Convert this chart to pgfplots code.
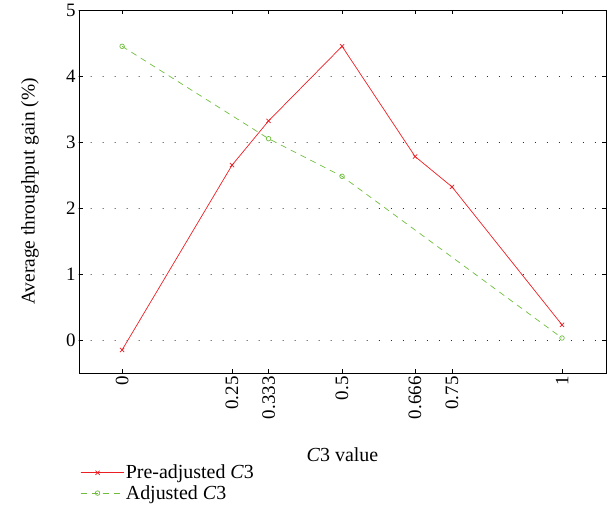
\documentclass[border=0pt]{standalone}
\usepackage{fontspec}
\setmainfont{Liberation Serif}
\usepackage{pgfplots}
\pgfplotsset{compat=1.18}
\definecolor{cred}{RGB}{235,30,35}
\definecolor{cgreen}{RGB}{110,190,60}
\begin{document}
\begin{tikzpicture}[x=1bp,y=1bp, font=\fontsize{19}{22}\selectfont]
\begin{axis}[
  at={(0,0)}, anchor=south west,
  scale only axis,
  width=527bp, height=363bp,
  xmin=-0.098, xmax=1.1,
  ymin=-0.5, ymax=5,
  xtick={0,0.25,0.333,0.5,0.666,0.75,1},
  xticklabels={0,0.25,0.333,0.5,0.666,0.75,1},
  tick label style={font=\fontsize{19}{22}\selectfont},
  xticklabel style={rotate=90, anchor=east},
  ytick={0,1,2,3,4,5},
  /pgf/number format/assume math mode=true,
  tick align=inside,
  major tick length=4bp,
  ymajorgrids,
  grid style={black, line width=1pt, dash pattern=on 0.01pt off 12bp, line cap=round},
  axis line style={line width=0.8pt},
  every tick/.style={black, line width=0.6pt},
  xlabel={\textit{C}3 value},
  xlabel style={font=\fontsize{20}{24}\selectfont, at={(axis description cs:0.5,-0.226)}, anchor=center},
  ylabel={Average throughput gain (\%)},
  ylabel style={font=\fontsize{19.5}{23}\selectfont, at={(axis description cs:-0.093,0.5)}, anchor=center},
  legend style={draw=none, fill=none, at={(axis description cs:0.0,-0.245)}, anchor=north west, font=\fontsize{20}{24}\selectfont, row sep=1bp, inner sep=1bp},
  legend cell align=left,
  legend image code/.code={
    \draw[#1, mark repeat=2, mark phase=2] plot coordinates {(0bp,0bp) (17bp,0bp) (34bp,0bp)};
    \path (0bp,0bp) -- (43bp,0bp);
  },
]
\addplot[cred, line width=0.7pt, mark=x, mark size=3pt] coordinates {
 (0,-0.15) (0.25,2.65) (0.333,3.32) (0.5,4.45) (0.666,2.78) (0.75,2.32) (1,0.23)
};
\addlegendentry{Pre-adjusted \textit{C}3}
\addplot[cgreen, line width=0.7pt, dash pattern=on 6bp off 5bp, mark=o, mark size=2.3pt, mark options={solid}] coordinates {
 (0,4.45) (0.333,3.05) (0.5,2.48) (1,0.03)
};
\addlegendentry{Adjusted \textit{C}3}
\end{axis}
\pgfresetboundingbox
\useasboundingbox (-79bp,-136bp) rectangle (531bp,373bp);
\end{tikzpicture}
\end{document}
